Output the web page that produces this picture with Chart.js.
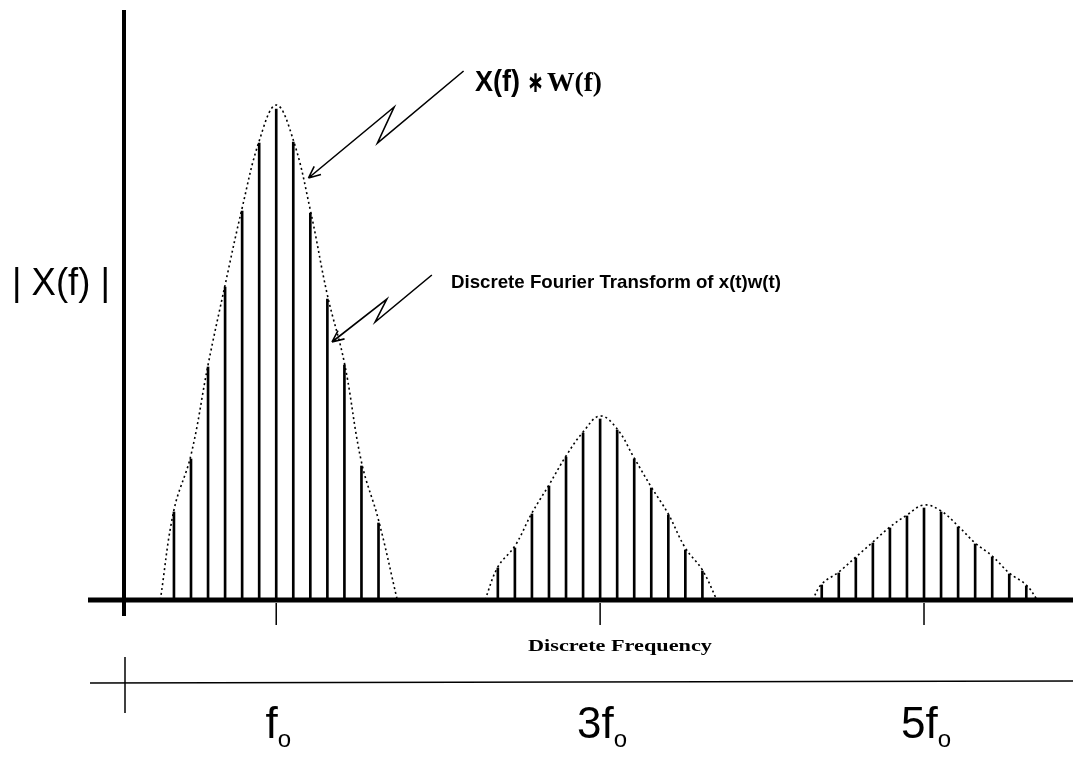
<!DOCTYPE html>
<html>
<head>
<meta charset="utf-8">
<script src="https://cdn.jsdelivr.net/npm/chart.js@4"></script>
<style>
html,body{margin:0;padding:0;background:#fff;}
canvas{display:block;}
</style>
</head>
<body>
<canvas id="dft" width="1073" height="761"></canvas>
<script>
// harmonic centres, in units of f0, and their labels
let harmonics=[1,3,5];
let harmonicLabels=['f','3f','5f'];
// stem positions: bin offsets from each centre (19 bins between harmonics)
let binOffsets=[-6,-5,-4,-3,-2,-1,0,1,2,3,4,5,6];
let binWidth=2/19;
// stem heights (DFT of x(t)w(t))
let stemsF1=[88,141,233,313,389,457,491,458,387,301,235,134,77];
let stemsF3=[32,52,86,114,143,167,181,170,141,112,85,50,29];
let stemsF5=[15,27,42,57,72,84,92,88,73,56,43,26,14];
// dotted envelope X(f)*W(f): bin offsets and heights
let envOffsF1=[-6.8,-6,-5,-4,-3,-2,-1,0,1,2,3,4,5,6,7.1];
let envF1=[0,90,145,235,315,392,459,495,460,390,305,237,138,80,0];
let envOffsF3=[-6.75,-6,-5,-4,-3,-2,-1,0,1,2,3,4,5,6,6.85];
let envF3=[0,33,54,87,115,144,168,184,171,142,113,86,52,30,0];
let envOffsF5=[-6.55,-6,-5,-4,-3,-2,-1,0,1,2,3,4,5,6,6.65];
let envF5=[0,16,28,43,58,73,85,95,89,74,57,44,27,15,0];

function pts(centre,offs,vals){
  return offs.map((o,i)=>({x:centre+o*binWidth,y:vals[i]}));
}

let stems=[].concat(
  pts(harmonics[0],binOffsets,stemsF1),
  pts(harmonics[1],binOffsets,stemsF3),
  pts(harmonics[2],binOffsets,stemsF5)
);

function envelope(centre,offs,vals){
  return {
    type:'line',
    data:pts(centre,offs,vals),
    borderColor:'#000',
    borderWidth:1.6,
    borderDash:[2,3],
    pointRadius:0,
    fill:false,
    tension:0.4
  };
}

// draw text squeezed/stretched to a given width
function fitText(c,txt,x,y,w,font){
  c.save();
  c.font=font;
  let m=c.measureText(txt).width;
  c.translate(x,y);
  c.scale(w/m,1);
  c.textAlign='left';
  c.textBaseline='alphabetic';
  c.fillText(txt,0,0);
  c.restore();
}

function zigArrow(c,p){
  c.beginPath();
  c.moveTo(p[0][0],p[0][1]);
  for(let i=1;i<p.length;i++) c.lineTo(p[i][0],p[i][1]);
  let t=p[p.length-1], q=p[p.length-2];
  let a=Math.atan2(t[1]-q[1],t[0]-q[0]);
  for(let s of [-1,1]){
    c.moveTo(t[0],t[1]);
    c.lineTo(t[0]-13*Math.cos(a+s*0.42),t[1]-13*Math.sin(a+s*0.42));
  }
  c.stroke();
}

// annotation arrows, in data units (f0, height)
let arrowConv=[[2.157,529],[1.625,457],[1.728,493],[1.199,422]];
let arrowDft=[[1.961,325],[1.611,278],[1.683,301],[1.344,258]];

let decor={
  id:'decor',
  afterDatasetsDraw(chart){
    let c=chart.ctx, xs=chart.scales.x, ys=chart.scales.y, a=chart.chartArea;
    let y0=ys.getPixelForValue(0);
    c.save();
    c.strokeStyle='#000';
    c.fillStyle='#000';
    c.lineCap='butt';
    // vertical axis
    c.lineWidth=4;
    c.beginPath(); c.moveTo(a.left,a.top); c.lineTo(a.left,y0+16); c.stroke();
    // baseline
    c.lineWidth=5;
    c.beginPath(); c.moveTo(88,y0); c.lineTo(a.right,y0); c.stroke();
    // ticks under harmonics
    c.lineWidth=1.5;
    harmonics.forEach(h=>{
      let px=xs.getPixelForValue(h);
      c.beginPath(); c.moveTo(px,y0+3); c.lineTo(px,y0+25); c.stroke();
    });
    // y label
    fitText(c,'| X(f) |',12,295,98,'39px "Liberation Sans"');
    // x label
    fitText(c,'Discrete Frequency',528,651,184,'bold 16px "Liberation Serif"');
    // lower harmonic axis
    c.lineWidth=1.5;
    c.beginPath(); c.moveTo(90,683); c.lineTo(a.right,681); c.stroke();
    c.beginPath(); c.moveTo(125,657); c.lineTo(125,713); c.stroke();
    harmonics.forEach((h,i)=>{
      let px=xs.getPixelForValue(h)+2;
      c.font='44px "Liberation Sans"';
      let w1=c.measureText(harmonicLabels[i]).width;
      c.font='24px "Liberation Sans"';
      let w2=c.measureText('o').width;
      let x0=px-(w1+w2)/2;
      c.font='44px "Liberation Sans"';
      c.fillText(harmonicLabels[i],x0,738);
      c.font='24px "Liberation Sans"';
      c.fillText('o',x0+w1,747);
    });
    // annotations
    c.lineWidth=1.6;
    let toPx=p=>[xs.getPixelForValue(p[0]),ys.getPixelForValue(p[1])];
    zigArrow(c,arrowConv.map(toPx));
    zigArrow(c,arrowDft.map(toPx));
    fitText(c,'X(f)',475,91,45,'bold 30px "Liberation Sans"');
    fitText(c,'\u2217',527,92,17,'bold 30px "DejaVu Sans"');
    fitText(c,'W(f)',547,91,55,'bold 28px "Liberation Serif"');
    fitText(c,'Discrete Fourier Transform of x(t)w(t)',451,288,330,'bold 19px "Liberation Sans"');
    c.restore();
  }
};

let dftChart=new Chart(document.getElementById('dft'),{
  type:'bar',
  data:{
    datasets:[
      {
        type:'bar',
        data:stems,
        backgroundColor:'#000',
        barThickness:2,
        grouped:false
      },
      envelope(harmonics[0],envOffsF1,envF1),
      envelope(harmonics[1],envOffsF3,envF3),
      envelope(harmonics[2],envOffsF5,envF5)
    ]
  },
  options:{
    responsive:false,
    animation:false,
    devicePixelRatio:1,
    layout:{padding:{left:124,right:0,top:10,bottom:161}},
    scales:{
      x:{type:'linear',min:0.06,max:5.92,display:false,offset:false},
      y:{min:0,max:590,display:false}
    },
    plugins:{legend:{display:false},tooltip:{enabled:false}}
  },
  plugins:[decor]
});
</script>
</body>
</html>
